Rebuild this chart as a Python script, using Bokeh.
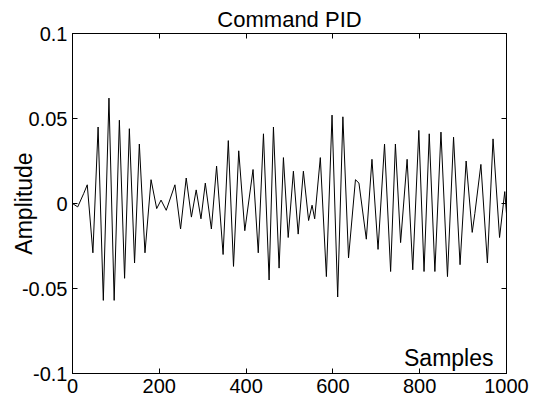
from bokeh.plotting import figure
from bokeh.models import Range1d, FixedTicker, LinearAxis, Label
from bokeh.embed import file_html
from bokeh.resources import INLINE

# Extrema of the command signal (sample index, amplitude)
samples = [0, 12, 26, 34, 47, 59, 71, 84, 96, 108, 120, 131, 143, 154, 167, 181,
           194, 204, 216, 236, 249, 262, 274, 285, 296, 306, 320, 332, 347, 359,
           371, 383, 397, 416, 428, 440, 453, 463, 476, 486, 497, 509, 520, 532,
           544, 552, 558, 571, 585, 598, 611, 623, 636, 652, 660, 677, 690, 704,
           719, 733, 744, 756, 771, 784, 798, 810, 822, 835, 849, 864, 878, 893,
           907, 921, 927, 941, 956, 969, 984, 996, 1000]
amplitude = [0.000, -0.002, 0.006, 0.011, -0.029, 0.045, -0.057, 0.062, -0.057,
             0.049, -0.044, 0.044, -0.035, 0.035, -0.029, 0.014, -0.003, 0.002,
             -0.004, 0.011, -0.015, 0.015, -0.008, 0.008, -0.009, 0.012, -0.015,
             0.022, -0.030, 0.037, -0.037, 0.031, -0.016, 0.020, -0.029, 0.041,
             -0.045, 0.045, -0.038, 0.027, -0.020, 0.019, -0.018, 0.019, -0.010,
             -0.001, -0.009, 0.027, -0.043, 0.052, -0.055, 0.051, -0.032, 0.014,
             0.012, -0.021, 0.026, -0.027, 0.035, -0.040, 0.035, -0.023, 0.026,
             -0.039, 0.043, -0.040, 0.041, -0.040, 0.042, -0.043, 0.039, -0.036,
             0.025, -0.017, -0.006, 0.023, -0.035, 0.038, -0.020, 0.007, -0.006]

x_ticks = [0, 200, 400, 600, 800, 1000]
x_tick_labels = ["0", "200", "400", "600", "800", "1000"]
y_ticks = [-0.1, -0.05, 0, 0.05, 0.1]
y_tick_labels = ["-0.1", "-0.05", "0", "0.05", "0.1"]

title_text = "Command PID"
x_label = "Samples"
y_label = "Amplitude"

FONT = "Liberation Sans"

p = figure(width=543, height=407, output_backend="svg", toolbar_location=None,
           x_range=Range1d(0, 1000), y_range=Range1d(-0.1, 0.1),
           min_border_left=72, min_border_right=37, min_border_top=33,
           min_border_bottom=34, background_fill_color="white",
           border_fill_color="white")
p.grid.visible = False
p.outline_line_color = "black"
p.outline_line_width = 1

p.title.text = title_text
p.title.align = "center"
p.title.text_font = FONT
p.title.text_font_size = "22px"
p.title.text_font_style = "normal"
p.title.text_color = "black"
p.title.standoff = 4

p.line(samples, amplitude, line_color="black", line_width=1)

def style_axis(ax, ticks, labels, show_labels=True):
    ax.ticker = FixedTicker(ticks=ticks)
    ax.major_label_overrides = {t: l for t, l in zip(ticks, labels)}
    ax.major_tick_in = 5
    ax.major_tick_out = 0
    ax.minor_tick_line_color = None
    ax.axis_line_color = "black"
    ax.major_tick_line_color = "black"
    ax.major_label_text_font = FONT
    ax.major_label_text_color = "black"
    if show_labels:
        ax.major_label_text_font_size = "20px"
        ax.major_label_standoff = 5
    else:
        ax.major_label_text_font_size = "0px"
        ax.major_label_standoff = 0

style_axis(p.xaxis[0], x_ticks, x_tick_labels)
style_axis(p.yaxis[0], y_ticks, y_tick_labels)
p.xaxis[0].major_label_standoff = 5

p.yaxis[0].axis_label = y_label
p.yaxis[0].axis_label_text_font = FONT
p.yaxis[0].axis_label_text_font_size = "23px"
p.yaxis[0].axis_label_text_font_style = "normal"
p.yaxis[0].axis_label_text_color = "black"
p.yaxis[0].axis_label_standoff = -18

top_axis = LinearAxis()
style_axis(top_axis, x_ticks, ["" for _ in x_ticks], show_labels=False)
p.add_layout(top_axis, "above")
right_axis = LinearAxis()
style_axis(right_axis, y_ticks, ["" for _ in y_ticks], show_labels=False)
p.add_layout(right_axis, "right")

p.add_layout(Label(x=421, y=16, x_units="screen", y_units="screen", text=x_label,
                   text_align="right", text_baseline="alphabetic",
                   text_font=FONT, text_font_size="23px", text_color="black"))

open("out.html", "w").write(file_html(p, INLINE))
